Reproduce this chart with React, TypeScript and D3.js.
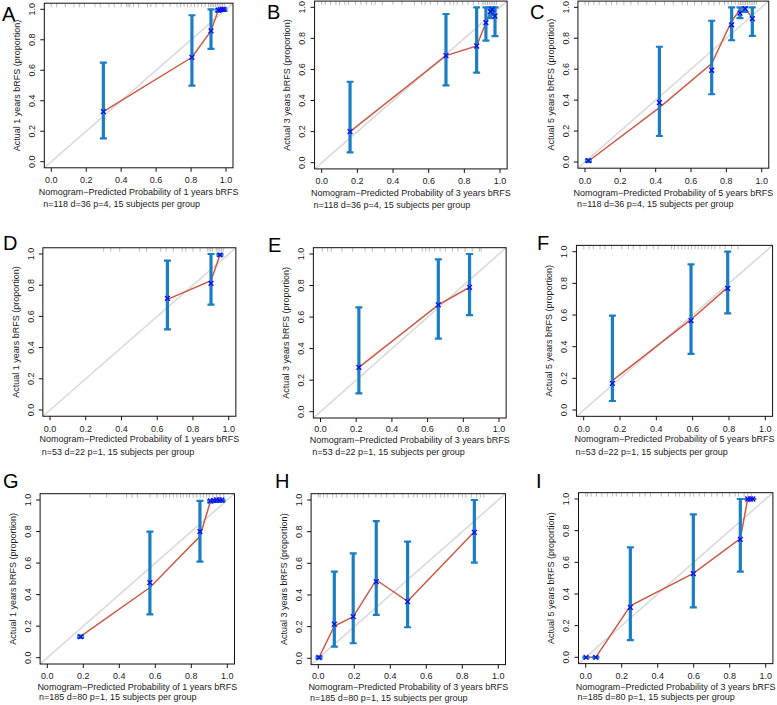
import React from "react";
import * as d3 from "d3";

// ---------- data ----------
const panelLetters = ["A", "B", "C", "D", "E", "F", "G", "H", "I"];
const yearLabels = [1, 3, 5, 1, 3, 5, 1, 3, 3];
const yearTitleLabels = [1, 3, 5, 1, 3, 5, 1, 3, 5];
const subtitles = [
  "n=118 d=36 p=4, 15 subjects per group",
  "n=118 d=36 p=4, 15 subjects per group",
  "n=118 d=36 p=4, 15 subjects per group",
  "n=53 d=22 p=1, 15 subjects per group",
  "n=53 d=22 p=1, 15 subjects per group",
  "n=53 d=22 p=1, 15 subjects per group",
  "n=185 d=80 p=1, 15 subjects per group",
  "n=185 d=80 p=1, 15 subjects per group",
  "n=185 d=80 p=1, 15 subjects per group",
];
const axisTicks = [0, 0.2, 0.4, 0.6, 0.8, 1.0];

// A
const A_pred = [0.298, 0.805, 0.914, 0.956, 0.968, 0.978, 0.988];
const A_obs = [0.328, 0.685, 0.858, 0.995, 0.998, 1.0, 1.0];
const A_lo = [0.153, 0.499, 0.74, 0.985, 0.99, 0.99, 0.99];
const A_hi = [0.65, 0.961, 1.0, 1.0, 1.0, 1.0, 1.0];
const A_line = [0.328, 0.685, 0.858, 0.995, 0.998, 1.0, 1.0];
const A_rug = [0.0, 0.03, 0.08, 0.13, 0.16, 0.19, 0.25, 0.28, 0.33, 0.36, 0.4, 0.43, 0.44, 0.45, 0.47, 0.5, 0.55, 0.57, 0.6, 0.64, 0.68, 0.72, 0.74, 0.76, 0.78, 0.8, 0.82, 0.84, 0.86, 0.88, 0.9, 0.91, 0.92, 0.93, 0.94, 0.95, 0.96, 0.97, 0.98, 0.99];

// B
const B_pred = [0.159, 0.697, 0.869, 0.921, 0.946, 0.957, 0.972];
const B_obs = [0.2, 0.689, 0.751, 0.901, 0.972, 0.987, 0.944];
const B_lo = [0.067, 0.498, 0.579, 0.785, 0.93, 0.95, 0.815];
const B_hi = [0.521, 0.957, 1.0, 1.0, 1.0, 1.0, 1.0];
const B_line = [0.2, 0.689, 0.751, 0.901, 0.972, 0.987, 0.944];
const B_rug = [0.0, 0.02, 0.05, 0.08, 0.1, 0.13, 0.15, 0.19, 0.22, 0.25, 0.28, 0.3, 0.34, 0.4, 0.45, 0.52, 0.56, 0.58, 0.61, 0.65, 0.69, 0.72, 0.74, 0.76, 0.79, 0.82, 0.85, 0.88, 0.9, 0.91, 0.92, 0.93, 0.94, 0.95, 0.96, 0.97, 0.98];

// C
const C_pred = [0.019, 0.421, 0.717, 0.83, 0.877, 0.906, 0.947];
const C_obs = [0.009, 0.384, 0.593, 0.886, 0.963, 0.991, 0.927];
const C_lo = [0.0, 0.168, 0.438, 0.787, 0.93, 0.97, 0.815];
const C_hi = [0.015, 0.745, 0.913, 1.0, 1.0, 1.0, 1.0];
const C_line = [0.005, 0.352, 0.636, 0.91, 0.985, 0.995, 0.93];
const C_rug = [0.0, 0.02, 0.05, 0.08, 0.12, 0.15, 0.18, 0.22, 0.26, 0.3, 0.35, 0.4, 0.45, 0.5, 0.55, 0.58, 0.62, 0.66, 0.7, 0.73, 0.76, 0.79, 0.81, 0.83, 0.85, 0.87, 0.88, 0.89, 0.9, 0.91, 0.92, 0.93, 0.94, 0.95, 0.96, 0.97];

// D
const D_pred = [0.657, 0.901, 0.951];
const D_obs = [0.716, 0.812, 0.994];
const D_lo = [0.517, 0.675, 0.99];
const D_hi = [0.957, 1.0, 1.0];
const D_line = [0.709, 0.829, 0.994];
const D_rug = [0.3, 0.34, 0.39, 0.5, 0.54, 0.62, 0.65, 0.69, 0.74, 0.76, 0.8, 0.84, 0.88, 0.89, 0.9, 0.91, 0.93, 0.94, 0.95, 0.96, 0.97];

// E
const E_pred = [0.215, 0.66, 0.835];
const E_obs = [0.281, 0.677, 0.789];
const E_lo = [0.116, 0.463, 0.613];
const E_hi = [0.662, 0.966, 1.0];
const E_line = [0.281, 0.677, 0.789];
const E_rug = [0.01, 0.04, 0.06, 0.12, 0.18, 0.25, 0.29, 0.36, 0.42, 0.46, 0.51, 0.57, 0.59, 0.61, 0.64, 0.67, 0.7, 0.74, 0.77, 0.81, 0.85, 0.89, 0.9];

// F
const F_pred = [0.158, 0.591, 0.793];
const F_obs = [0.168, 0.564, 0.768];
const F_lo = [0.057, 0.354, 0.61];
const F_hi = [0.596, 0.92, 1.0];
const F_line = [0.185, 0.572, 0.775];
const F_rug = [0.0, 0.03, 0.053, 0.09, 0.117, 0.154, 0.21, 0.246, 0.273, 0.31, 0.347, 0.383, 0.41, 0.484, 0.5, 0.52, 0.54, 0.558, 0.576, 0.594, 0.613, 0.63, 0.65, 0.668, 0.686, 0.705, 0.723, 0.75, 0.778, 0.815, 0.85];

// G
const G_pred = [0.185, 0.57, 0.848, 0.907, 0.925, 0.94, 0.955, 0.97];
const G_obs = [0.133, 0.476, 0.8, 0.994, 0.997, 1.0, 1.0, 1.0];
const G_lo = [0.125, 0.275, 0.609, 0.985, 0.99, 0.99, 0.99, 0.99];
const G_hi = [0.14, 0.8, 0.994, 1.0, 1.0, 1.0, 1.0, 1.0];
const G_line = [0.135, 0.445, 0.77, 0.994, 0.997, 1.0, 1.0, 1.0];
const G_rug = [0.237, 0.33, 0.44, 0.47, 0.5, 0.57, 0.61, 0.645, 0.66, 0.68, 0.7, 0.72, 0.74, 0.755, 0.775, 0.79, 0.81, 0.83, 0.85, 0.867, 0.885, 0.9, 0.92, 0.94, 0.96, 0.98];

// H
const H_pred = [0.004, 0.089, 0.194, 0.322, 0.496, 0.867];
const H_obs = [0.005, 0.215, 0.263, 0.484, 0.358, 0.796];
const H_lo = [0.0, 0.074, 0.095, 0.274, 0.196, 0.604];
const H_hi = [0.01, 0.547, 0.663, 0.867, 0.737, 1.0];
const H_line = [0.005, 0.204, 0.263, 0.495, 0.36, 0.8];
const H_rug = [0.0, 0.01, 0.03, 0.05, 0.08, 0.1, 0.13, 0.16, 0.2, 0.22, 0.25, 0.28, 0.32, 0.35, 0.38, 0.42, 0.47, 0.5, 0.53, 0.55, 0.58, 0.6, 0.62, 0.65, 0.68, 0.7, 0.72, 0.75, 0.78, 0.8, 0.82, 0.85, 0.88, 0.9, 0.92];

// I
const I_pred = [0.002, 0.056, 0.248, 0.598, 0.859, 0.9, 0.915, 0.928];
const I_obs = [0.0, 0.0, 0.316, 0.528, 0.745, 1.0, 1.0, 1.0];
const I_lo = [0.0, 0.0, 0.109, 0.316, 0.541, 1.0, 1.0, 1.0];
const I_hi = [0.0, 0.0, 0.695, 0.903, 1.0, 1.0, 1.0, 1.0];
const I_line = [0.0, 0.0, 0.325, 0.53, 0.75, 1.0, 1.0, 1.0];
const I_rug = [0.0, 0.01, 0.03, 0.06, 0.09, 0.12, 0.15, 0.17, 0.2, 0.23, 0.26, 0.3, 0.33, 0.36, 0.42, 0.46, 0.5, 0.52, 0.55, 0.58, 0.6, 0.63, 0.66, 0.7, 0.73, 0.76, 0.8, 0.83, 0.85, 0.88, 0.9, 0.92];

const panelData = [
  { pred: A_pred, obs: A_obs, lo: A_lo, hi: A_hi, line: A_line, rug: A_rug },
  { pred: B_pred, obs: B_obs, lo: B_lo, hi: B_hi, line: B_line, rug: B_rug },
  { pred: C_pred, obs: C_obs, lo: C_lo, hi: C_hi, line: C_line, rug: C_rug },
  { pred: D_pred, obs: D_obs, lo: D_lo, hi: D_hi, line: D_line, rug: D_rug },
  { pred: E_pred, obs: E_obs, lo: E_lo, hi: E_hi, line: E_line, rug: E_rug },
  { pred: F_pred, obs: F_obs, lo: F_lo, hi: F_hi, line: F_line, rug: F_rug },
  { pred: G_pred, obs: G_obs, lo: G_lo, hi: G_hi, line: G_line, rug: G_rug },
  { pred: H_pred, obs: H_obs, lo: H_lo, hi: H_hi, line: H_line, rug: H_rug },
  { pred: I_pred, obs: I_obs, lo: I_lo, hi: I_hi, line: I_line, rug: I_rug },
];

// ---------- layout (pixel positions of 0 and 1 on each axis) ----------
const layouts = [
  { x0: 51.3, x1: 226, y0: 161.7, y1: 9.3, tickY: 180, titleY: 192, subY: 204, lx: 2, ly: 21 },
  { x0: 321.7, x1: 500, y0: 162.7, y1: 7.3, tickY: 181, titleY: 192.7, subY: 205, lx: 267, ly: 19 },
  { x0: 585, x1: 761.7, y0: 162, y1: 7.3, tickY: 181, titleY: 192.7, subY: 204, lx: 530, ly: 19 },
  { x0: 50, x1: 228.7, y0: 410, y1: 254, tickY: 428.8, titleY: 439, subY: 451.7, lx: 3, ly: 250 },
  { x0: 320.5, x1: 499, y0: 411.7, y1: 254, tickY: 429.3, titleY: 439.5, subY: 451.7, lx: 268, ly: 252 },
  { x0: 583.7, x1: 765.3, y0: 410, y1: 251.7, tickY: 429, titleY: 439, subY: 451.7, lx: 537, ly: 250 },
  { x0: 47.3, x1: 227.3, y0: 657.7, y1: 500, tickY: 675.7, titleY: 686.7, subY: 696.7, lx: 3, ly: 488 },
  { x0: 318.3, x1: 498.3, y0: 658.3, y1: 500, tickY: 675.7, titleY: 686.7, subY: 697.5, lx: 275, ly: 488 },
  { x0: 585.7, x1: 765.7, y0: 657.3, y1: 499, tickY: 675.7, titleY: 686.7, subY: 696.7, lx: 536, ly: 488 },
];

const FONT = "'Liberation Sans', Arial, Helvetica, sans-serif";
const TEXT = "#1a1a1a";
const RED = "#CC5A45";
const BAR = "#1B7DC4";
const MARK = "#1010F0";
const DIAG = "#DADADA";
const RUG = "#AAAAAA";

function Panel({ i }: { i: number }) {
  const L = layouts[i];
  const D = panelData[i];
  const x = d3.scaleLinear().domain([0, 1]).range([L.x0, L.x1]);
  const y = d3.scaleLinear().domain([0, 1]).range([L.y0, L.y1]);
  const bl = x(-0.04), br = x(1.04), bt = y(1.04), bb = y(-0.04);
  const fmt = d3.format(".1f");
  const pts = D.pred.map((p, k) => [p, D.line[k]] as [number, number]);
  const linePath = d3.line<[number, number]>().x((d) => x(d[0])).y((d) => y(d[1]))(pts) || "";
  const midX = (bl + br) / 2;
  const midY = (bt + bb) / 2;
  const tickLX = bl - 12.5;
  const titleLX = bl - 27.5;
  const clipId = "clip" + i;
  const m = 2.4;
  return (
    <g>
      <defs>
        <clipPath id={clipId}>
          <rect x={bl} y={bt} width={br - bl} height={bb - bt} />
        </clipPath>
      </defs>
      <g clipPath={`url(#${clipId})`}>
        <line x1={x(-0.04)} y1={y(-0.04)} x2={x(1.04)} y2={y(1.04)} stroke={DIAG} strokeWidth={1.6} />
        {D.rug.map((r, k) => (
          <line key={"r" + k} x1={x(r)} x2={x(r)} y1={bt} y2={bt + 4} stroke={RUG} strokeWidth={0.8} />
        ))}
        <path d={linePath} fill="none" stroke={RED} strokeWidth={1.5} />
        {D.pred.map((p, k) => (
          <g key={"e" + k}>
            <line x1={x(p)} x2={x(p)} y1={y(D.lo[k])} y2={y(D.hi[k])} stroke={BAR} strokeWidth={3.2} />
            <line x1={x(p) - 3.5} x2={x(p) + 3.5} y1={y(D.lo[k])} y2={y(D.lo[k])} stroke={BAR} strokeWidth={2.2} />
            <line x1={x(p) - 3.5} x2={x(p) + 3.5} y1={y(D.hi[k])} y2={y(D.hi[k])} stroke={BAR} strokeWidth={2.2} />
          </g>
        ))}
        {D.pred.map((p, k) => (
          <g key={"m" + k} stroke={MARK} strokeWidth={1.4}>
            <line x1={x(p) - m} x2={x(p) + m} y1={y(D.obs[k]) - m} y2={y(D.obs[k]) + m} />
            <line x1={x(p) - m} x2={x(p) + m} y1={y(D.obs[k]) + m} y2={y(D.obs[k]) - m} />
          </g>
        ))}
      </g>
      <rect x={bl} y={bt} width={br - bl} height={bb - bt} fill="none" stroke="#111" strokeWidth={1} />
      {/* x axis */}
      {axisTicks.map((t) => (
        <g key={"xt" + t}>
          <line x1={x(t)} x2={x(t)} y1={bb} y2={bb + 4} stroke="#111" strokeWidth={1} />
          <text x={x(t)} y={L.tickY} dy="0.35em" textAnchor="middle" fontSize={9} fontFamily={FONT} fill={TEXT}>
            {fmt(t)}
          </text>
        </g>
      ))}
      {/* y axis */}
      {axisTicks.map((t) => (
        <g key={"yt" + t}>
          <line x1={bl - 4} x2={bl} y1={y(t)} y2={y(t)} stroke="#111" strokeWidth={1} />
          <text
            transform={`translate(${tickLX},${y(t)}) rotate(-90)`}
            dy="0.35em"
            textAnchor="middle"
            fontSize={9}
            fontFamily={FONT}
            fill={TEXT}
          >
            {fmt(t)}
          </text>
        </g>
      ))}
      <text x={midX} y={L.titleY} dy="0.35em" textAnchor="middle" fontSize={9} fontFamily={FONT} fill={TEXT}>
        {`Nomogram\u2212Predicted Probability of ${yearLabels[i]} years bRFS`}
      </text>
      <text
        transform={`translate(${titleLX},${midY}) rotate(-90)`}
        dy="0.35em"
        textAnchor="middle"
        fontSize={9}
        fontFamily={FONT}
        fill={TEXT}
      >
        {`Actual ${yearTitleLabels[i]} years bRFS (proportion)`}
      </text>
      <text x={bl - 1} y={L.subY} dy="0.35em" textAnchor="start" fontSize={9} fontFamily={FONT} fill={TEXT}>
        {subtitles[i]}
      </text>
      <text x={L.lx} y={L.ly} fontSize={20} fontFamily={FONT} fill="#000">
        {panelLetters[i]}
      </text>
    </g>
  );
}

export default function App() {
  return (
    <svg
      width={777}
      height={705}
      viewBox="0 0 777 705"
      style={{ position: "absolute", left: 0, top: 0, background: "#fff" }}
    >
      <rect x={0} y={0} width={777} height={705} fill="#fff" />
      {panelLetters.map((_, i) => (
        <Panel key={i} i={i} />
      ))}
    </svg>
  );
}
